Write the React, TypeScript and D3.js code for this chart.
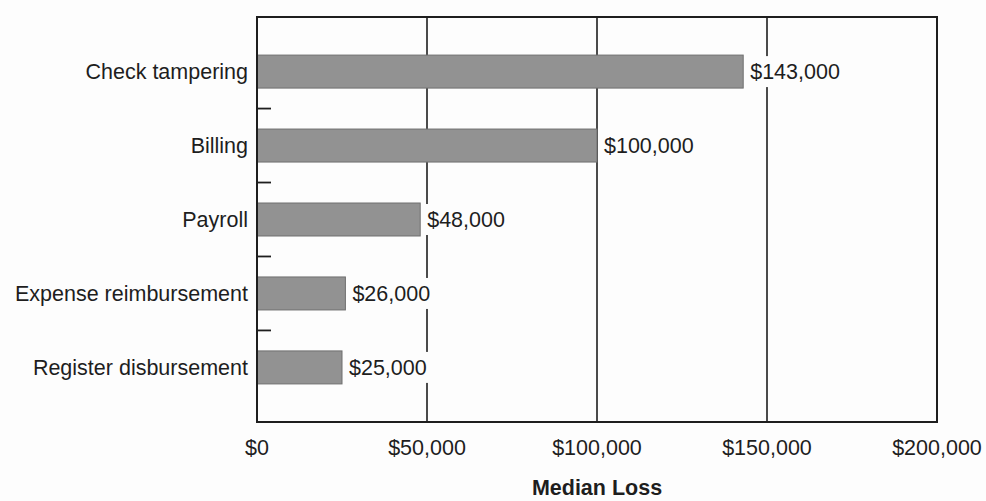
import React from "react";
import * as d3 from "d3";

const categories = [
  "Check tampering",
  "Billing",
  "Payroll",
  "Expense reimbursement",
  "Register disbursement",
];
const medianLoss = [143000, 100000, 48000, 26000, 25000];
const xTicks = [0, 50000, 100000, 150000, 200000];
const axisTitle = "Median Loss";

const W = 986;
const H = 501;
const M = { left: 257, right: 49, top: 17, bottom: 79 };

// approximate Arial advance widths (em) for label background sizing
function textWidth(s: string, size: number) {
  let w = 0;
  for (const ch of s) w += ch === "," ? 0.278 : 0.556;
  return w * size;
}

export default function App() {
  const x = d3
    .scaleLinear()
    .domain([0, 200000])
    .range([M.left, W - M.right]);
  const y = d3
    .scaleBand<string>()
    .domain(categories)
    .range([M.top, H - M.bottom])
    .paddingInner(0.554)
    .paddingOuter(0.515);
  const bw = y.bandwidth();
  const step = y.step();
  const fmt = (v: number) => "$" + d3.format(",")(v);
  const font = "'Liberation Sans', Arial, Helvetica, sans-serif";
  const ink = "#1e1e1e";
  const fs = 21.5;

  return (
    <svg
      width={W}
      height={H}
      style={{ position: "absolute", left: 0, top: 0, background: "#fdfdfd" }}
      fontFamily={font}
    >
      {/* grid lines */}
      {xTicks.slice(1, -1).map((t) => (
        <line
          key={"g" + t}
          x1={x(t)}
          x2={x(t)}
          y1={M.top}
          y2={H - M.bottom}
          stroke={ink}
          strokeWidth={1.6}
        />
      ))}
      {/* bars */}
      {categories.map((c, i) => (
        <rect
          key={"b" + c}
          x={x(0)}
          y={y(c)!}
          width={x(medianLoss[i]) - x(0)}
          height={bw}
          fill="#929292"
          stroke="#6f6f6f"
          strokeWidth={1}
        />
      ))}
      {/* frame */}
      <rect
        x={M.left}
        y={M.top}
        width={W - M.left - M.right}
        height={H - M.top - M.bottom}
        fill="none"
        stroke={ink}
        strokeWidth={2}
      />
      {/* category separator ticks */}
      {categories.slice(0, -1).map((c) => {
        const yy = y(c)! + bw / 2 + step / 2;
        return (
          <line
            key={"t" + c}
            x1={M.left}
            x2={M.left + 14}
            y1={yy}
            y2={yy}
            stroke={ink}
            strokeWidth={1.8}
          />
        );
      })}
      {/* category labels */}
      {categories.map((c) => (
        <text
          key={"l" + c}
          x={M.left - 9}
          y={y(c)! + bw / 2}
          dy="0.35em"
          textAnchor="end"
          fontSize={fs}
          fill={ink}
        >
          {c}
        </text>
      ))}
      {/* value labels with white backing */}
      {categories.map((c, i) => {
        const label = fmt(medianLoss[i]);
        const tx = x(medianLoss[i]) + 7;
        return (
          <g key={"v" + c}>
            <rect
              x={tx - 3}
              y={y(c)! + 1}
              width={textWidth(label, fs) + 6}
              height={bw - 2}
              fill="#fdfdfd"
            />
            <text
              x={tx}
              y={y(c)! + bw / 2}
              dy="0.35em"
              textAnchor="start"
              fontSize={fs}
              fill={ink}
            >
              {label}
            </text>
          </g>
        );
      })}
      {/* x tick labels */}
      {xTicks.map((t) => (
        <text
          key={"x" + t}
          x={x(t)}
          y={455}
          textAnchor="middle"
          fontSize={fs}
          fill={ink}
        >
          {fmt(t)}
        </text>
      ))}
      {/* axis title */}
      <text
        x={(M.left + W - M.right) / 2}
        y={495}
        textAnchor="middle"
        fontSize={fs}
        fontWeight="bold"
        fill={ink}
      >
        {axisTitle}
      </text>
    </svg>
  );
}
